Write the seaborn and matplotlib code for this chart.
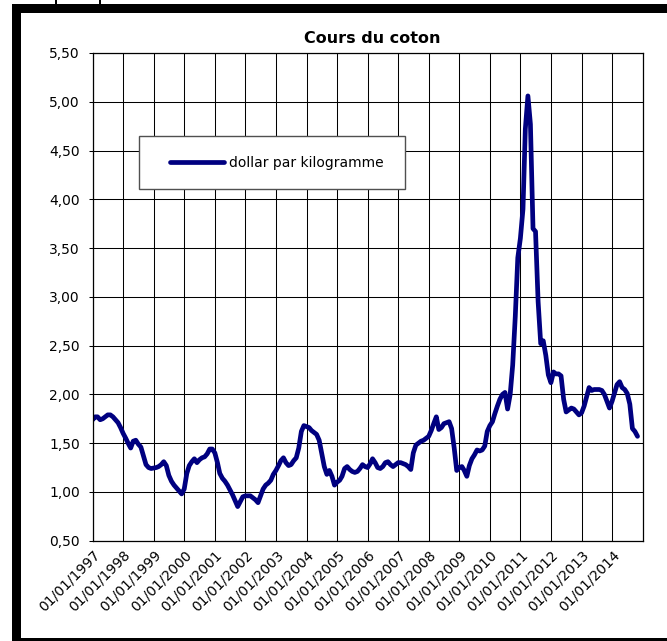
import matplotlib
matplotlib.use("Agg")
import matplotlib.pyplot as plt
from matplotlib.patches import Rectangle
from matplotlib.ticker import FuncFormatter
import numpy as np
import pandas as pd
import seaborn as sns

# Cotton price in dollars per kilogram, one value per month (month-end dates)
cours_1997 = [1.74, 1.77, 1.77, 1.74, 1.75, 1.77, 1.79, 1.79, 1.77, 1.74, 1.71, 1.66]
cours_1998 = [1.60, 1.55, 1.50, 1.45, 1.52, 1.53, 1.49, 1.46, 1.37, 1.28, 1.25, 1.24]
cours_1999 = [1.245, 1.25, 1.26, 1.28, 1.31, 1.27, 1.17, 1.11, 1.07, 1.04, 1.01, 0.98]
cours_2000 = [1.03, 1.19, 1.27, 1.31, 1.34, 1.30, 1.33, 1.35, 1.36, 1.39, 1.44, 1.44]
cours_2001 = [1.40, 1.30, 1.19, 1.14, 1.11, 1.07, 1.02, 0.97, 0.91, 0.85, 0.90, 0.95]
cours_2002 = [0.96, 0.96, 0.96, 0.94, 0.92, 0.89, 0.96, 1.03, 1.07, 1.09, 1.12, 1.18]
cours_2003 = [1.22, 1.27, 1.32, 1.35, 1.30, 1.27, 1.28, 1.32, 1.35, 1.45, 1.62, 1.68]
cours_2004 = [1.67, 1.66, 1.63, 1.61, 1.59, 1.53, 1.40, 1.26, 1.18, 1.22, 1.16, 1.07]
cours_2005 = [1.10, 1.12, 1.16, 1.24, 1.26, 1.23, 1.21, 1.20, 1.21, 1.24, 1.28, 1.26]
cours_2006 = [1.25, 1.29, 1.34, 1.30, 1.25, 1.24, 1.26, 1.30, 1.31, 1.28, 1.26, 1.28]
cours_2007 = [1.30, 1.30, 1.29, 1.28, 1.26, 1.23, 1.40, 1.48, 1.50, 1.52, 1.53, 1.55]
cours_2008 = [1.57, 1.63, 1.70, 1.77, 1.64, 1.66, 1.70, 1.71, 1.72, 1.65, 1.45, 1.22]
cours_2009 = [1.25, 1.26, 1.22, 1.16, 1.27, 1.34, 1.38, 1.43, 1.42, 1.43, 1.47, 1.62]
cours_2010 = [1.68, 1.72, 1.80, 1.88, 1.95, 2.00, 2.02, 1.85, 2.00, 2.30, 2.80, 3.40]
cours_2011 = [3.60, 3.90, 4.72, 5.06, 4.77, 3.70, 3.67, 2.95, 2.52, 2.55, 2.40, 2.20]
cours_2012 = [2.12, 2.23, 2.21, 2.21, 2.19, 1.95, 1.82, 1.84, 1.86, 1.85, 1.82, 1.79]
cours_2013 = [1.81, 1.88, 1.97, 2.07, 2.04, 2.05, 2.05, 2.05, 2.04, 2.00, 1.93, 1.86]
cours_2014 = [1.93, 2.02, 2.10, 2.13, 2.07, 2.05, 2.01, 1.90, 1.65, 1.62, 1.57]

premiere_date = "1996-12-31"
serie_nom = "dollar par kilogramme"
titre = "Cours du coton"

etiquettes_x = ["01/01/1997", "01/01/1998", "01/01/1999", "01/01/2000",
                "01/01/2001", "01/01/2002", "01/01/2003", "01/01/2004",
                "01/01/2005", "01/01/2006", "01/01/2007", "01/01/2008",
                "01/01/2009", "01/01/2010", "01/01/2011", "01/01/2012",
                "01/01/2013", "01/01/2014"]
graduations_y = [0.5, 1.0, 1.5, 2.0, 2.5, 3.0, 3.5, 4.0, 4.5, 5.0, 5.5]

valeurs = (cours_1997 + cours_1998 + cours_1999 + cours_2000 + cours_2001
           + cours_2002 + cours_2003 + cours_2004 + cours_2005 + cours_2006
           + cours_2007 + cours_2008 + cours_2009 + cours_2010 + cours_2011
           + cours_2012 + cours_2013 + cours_2014)
df = pd.DataFrame({
    "date": pd.date_range(premiere_date, periods=len(valeurs), freq="ME"),
    "cours": valeurs,
})

W, H = 667, 641
plt.rcParams["font.family"] = ["DejaVu Sans"]
fig = plt.figure(figsize=(W / 100, H / 100), dpi=100)
fig.patch.set_facecolor("white")


def px_rect(x0, y0, x1, y1):
    """Figure-fraction rectangle from pixel corners (origin top-left)."""
    return (x0 / W, 1 - y1 / H, (x1 - x0) / W, (y1 - y0) / H)


# Plot area
left, top, right, bottom = 92.7, 53.0, 642.7, 540.7
x0, y0, w, h = px_rect(left, top, right, bottom)
ax = fig.add_axes([x0, y0, w, h])

sns.lineplot(data=df, x="date", y="cours", ax=ax, color="#000080",
             linewidth=3.4, legend=False, zorder=2)
for ln in ax.lines:
    ln.set_solid_joinstyle("round")
    ln.set_solid_capstyle("round")

ax.set_xlim(pd.Timestamp("1997-01-01"), pd.Timestamp("2015-01-01"))
ax.set_ylim(graduations_y[0], graduations_y[-1])
ax.set_yticks(graduations_y)
ax.yaxis.set_major_formatter(FuncFormatter(lambda v, p: f"{v:.2f}".replace(".", ",")))

ticks_x = pd.to_datetime([s[6:] + "-01-01" for s in etiquettes_x])
ax.set_xticks(ticks_x)
ax.set_xticklabels(etiquettes_x, rotation=45, ha="right", va="top",
                   rotation_mode="anchor")

ax.set_xlabel("")
ax.set_ylabel("")
ax.grid(True, color="black", linewidth=0.75)
ax.set_axisbelow(True)
for s in ax.spines.values():
    s.set_color("black")
    s.set_linewidth(0.9)
ax.tick_params(axis="y", length=3.2, width=0.75, pad=6, labelsize=10, colors="black")
ax.tick_params(axis="x", length=0, pad=5, labelsize=10, colors="black")

ax.set_title(titre, fontsize=11.5, fontweight="bold", pad=7, x=0.509)

# Legend box
bx0, by0, bx1, by1 = 139.3, 136.0, 404.7, 189.0
ax.add_patch(Rectangle(((bx0 - left) / (right - left), 1 - (by1 - top) / (bottom - top)),
                       (bx1 - bx0) / (right - left), (by1 - by0) / (bottom - top),
                       transform=ax.transAxes, facecolor="white",
                       edgecolor="#505050", linewidth=1.0, zorder=3))
leg = ax.legend(ax.lines[:1], [serie_nom], loc="center left",
                bbox_to_anchor=((170 - left) / (right - left), 1 - (162.5 - top) / (bottom - top)),
                frameon=False, fontsize=10, handlelength=3.9, handletextpad=0.36,
                borderpad=0, borderaxespad=0)
leg.set_zorder(5)

# Black frame around the page
for rect in [px_rect(12, 4, W, 13), px_rect(12, 4, 21, H), px_rect(12, 638, W, H),
             px_rect(55, 0, 57, 4), px_rect(99, 0, 101, 4)]:
    fig.add_artist(Rectangle(rect[:2], rect[2], rect[3], transform=fig.transFigure,
                             facecolor="black", edgecolor="none"))

fig.savefig("out.png", dpi=100)
